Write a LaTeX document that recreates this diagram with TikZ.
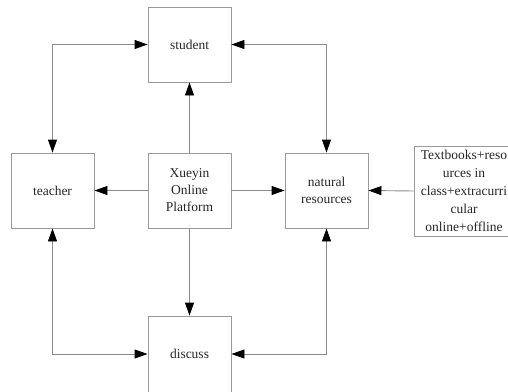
\documentclass[tikz,border=0pt]{standalone}
\usepackage{fontspec}
\setmainfont{Liberation Serif}
\usetikzlibrary{arrows.meta}
\definecolor{linegray}{HTML}{8C8C8C}
\definecolor{boxgray}{HTML}{9A9A9A}
\tikzset{
  box/.style={draw=boxgray, line width=0.9pt, minimum width=83pt, minimum height=75pt, inner sep=0pt, align=center, font=\fontsize{13.5pt}{17pt}\selectfont, text=black!85},
  conn/.style={draw=linegray, line width=0.9pt},
  tip/.tip={Triangle[length=13pt,width=9pt,color=black]},
}
\begin{document}
\begin{tikzpicture}[x=1pt,y=-1pt]
\useasboundingbox (0,0) rectangle (508,391);
\node[box] (student) at (189.5,44.5) {student};
\node[box] (teacher) at (52.5,190.5) {teacher};
\node[box] (xueyin) at (189.5,190.5) {Xueyin\\Online\\Platform};
\node[box] (natural) at (326.5,190.5) {natural\\resources};
\node[box, minimum height=76pt] (discuss) at (189.5,354) {discuss};
\node[box, minimum width=100pt, minimum height=90pt, font=\fontsize{13.5pt}{18pt}\selectfont] (res) at (464,191) {Textbooks+reso\\urces in\\class+extracurri\\cular\\online+offline};
\draw[conn, tip-tip] (teacher.north) |- (student.west);
\draw[conn, tip-tip] (student.east) -| (natural.north);
\draw[conn, tip-tip] (teacher.south) |- (discuss.west);
\draw[conn, tip-tip] (natural.south) |- (discuss.east);
\draw[conn, -tip] (xueyin.west) -- (teacher.east);
\draw[conn, -tip] (xueyin.north) -- (student.south);
\draw[conn, -tip] (xueyin.east) -- (natural.west);
\draw[conn, -tip] (xueyin.south) -- (discuss.north);
\draw[conn, -tip] (res.west) -- (natural.east);
\end{tikzpicture}
\end{document}
